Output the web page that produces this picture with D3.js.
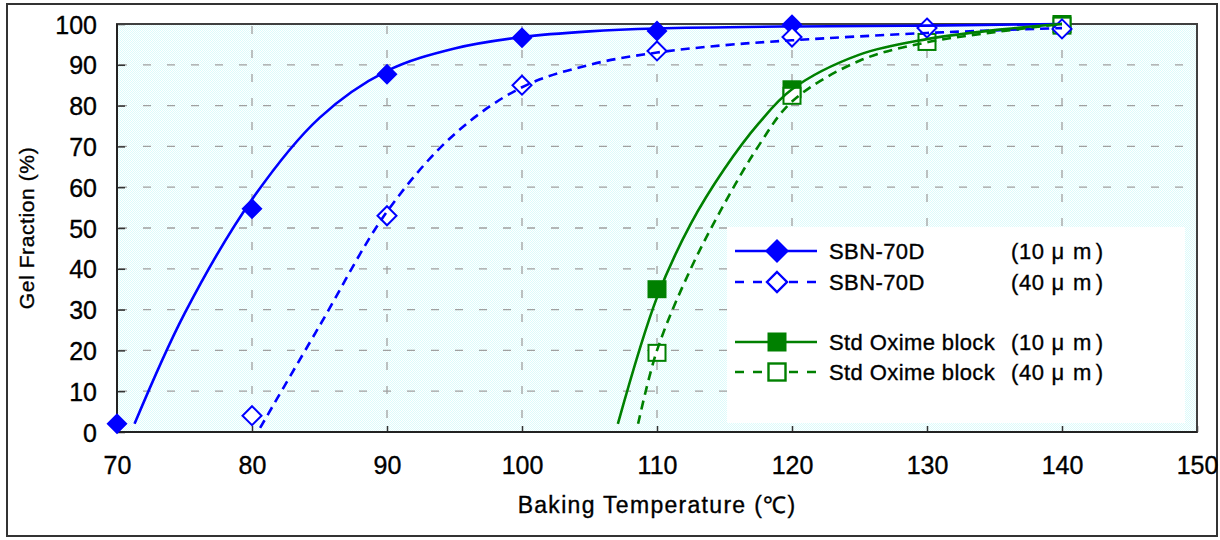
<!DOCTYPE html>
<html><head><meta charset="utf-8">
<script src="https://cdn.jsdelivr.net/npm/d3@7"></script>
<style>
body{margin:0;background:#fff;}
text{font-family:"Liberation Sans",Arial,sans-serif;fill:#000;stroke:#000;stroke-width:0.35px;}
</style>
</head><body>
<svg id="chart" width="1220" height="540"></svg>
<script>
// ---- data ----
const xTicks = [70, 80, 90, 100, 110, 120, 130, 140, 150];
const yTicks = [0, 10, 20, 30, 40, 50, 60, 70, 80, 90, 100];

// measured points
const sbn10Temp = [70, 80, 90, 100, 110, 120];
const sbn10Gel  = [2, 54.7, 87.7, 96.6, 98.3, 99.8];
const sbn40Temp = [80, 90, 100, 110, 120, 130, 140];
const sbn40Gel  = [4, 53, 85, 93.4, 96.8, 99, 98.8];
const std10Temp = [110, 120, 140];
const std10Gel  = [35, 84, 100];
const std40Temp = [110, 120, 130, 140];
const std40Gel  = [19.4, 82.4, 95.6, 99.6];

// fitted curves
const sbn10CurveT = [71.3, 75, 80, 85, 90, 95, 100, 105, 110, 120, 130, 140];
const sbn10CurveG = [2, 29, 57, 77, 88.5, 94, 96.8, 98.2, 98.9, 99.4, 99.6, 100];
const sbn40CurveT = [80.6, 85, 90, 95, 100, 105, 110, 115, 120, 130, 140];
const sbn40CurveG = [1, 26, 54, 73, 84.5, 90, 93, 94.8, 96, 97.8, 99];
const std10CurveT = [107.1, 110, 112.5, 115, 117.5, 120, 125, 130, 135, 140];
const std10CurveG = [2, 33, 51, 64.5, 75.5, 84, 92.5, 96.3, 98.5, 100];
const std40CurveT = [108.6, 110, 112.5, 115, 117.5, 120, 125, 130, 135, 140];
const std40CurveG = [2, 20, 40, 56, 70, 81, 91, 95.5, 98, 100];

const legendNames = ["SBN-70D", "SBN-70D", "Std Oxime block", "Std Oxime block"];
const legendThickNum = ["10", "40", "10", "40"];
const xTitle = "Baking Temperature (\u2103)";
const yTitle = "Gel Fraction (%)";

// ---- drawing ----
const svg = d3.select("#chart");
const L = 117, R = 1197, T = 24, B = 432;
const x = d3.scaleLinear().domain([70, 150]).range([L, R]);
const y = d3.scaleLinear().domain([0, 100]).range([B, T]);

const BLUE = "#0000ff", GREEN = "#008000";

// outer border
svg.append("rect").attr("x", 7).attr("y", 4).attr("width", 1210).attr("height", 532)
  .attr("fill", "#fff").attr("stroke", "#333").attr("stroke-width", 2);

// pattern
const defs = svg.append("defs");
const pat = defs.append("pattern").attr("id", "dots").attr("width", 2).attr("height", 2)
  .attr("patternUnits", "userSpaceOnUse");
pat.append("rect").attr("width", 2).attr("height", 2).attr("fill", "#ffffff");
pat.append("rect").attr("x", 0).attr("y", 0).attr("width", 1).attr("height", 1).attr("fill", "#dcfbfb");
pat.append("rect").attr("x", 1).attr("y", 1).attr("width", 1).attr("height", 1).attr("fill", "#dcfbfb");

svg.append("rect").attr("x", L).attr("y", T).attr("width", R - L).attr("height", B - T)
  .attr("fill", "url(#dots)");

// grid
const grid = svg.append("g").attr("stroke", "#a0a0a0").attr("stroke-width", 1.3)
  .attr("stroke-dasharray", "8,16");
grid.selectAll(".hg").data(yTicks.filter(d => d > 0 && d < 100)).join("line")
  .attr("x1", L + 2).attr("x2", R).attr("y1", d => y(d)).attr("y2", d => y(d));
grid.selectAll(".vg").data(xTicks.filter(d => d > 70 && d < 150)).join("line")
  .attr("y1", T + 2).attr("y2", B).attr("x1", d => x(d)).attr("x2", d => x(d));

// legend box (white)
const lg = svg.append("g");
lg.append("rect").attr("x", 727).attr("y", 227).attr("width", 458).attr("height", 196).attr("fill", "#fff");

// axes
const yAxis = d3.axisLeft(y).tickValues(yTicks).tickSizeInner(-8).tickSizeOuter(0).tickPadding(20);
const xAxis = d3.axisBottom(x).tickValues(xTicks).tickSizeInner(-6).tickSizeOuter(0).tickPadding(24);
const gy = svg.append("g").attr("transform", `translate(${L},0)`).call(yAxis);
const gx = svg.append("g").attr("transform", `translate(0,${B})`).call(xAxis);
[gx, gy].forEach(g => {
  g.select(".domain").remove();
  g.selectAll(".tick line").attr("stroke", "#333").attr("stroke-width", 1.5);
  g.selectAll(".tick text").style("font-size", "25px").attr("fill", "#000");
});
gy.selectAll(".tick text").attr("dy", "0.36em");

// plot frame
svg.append("rect").attr("x", L).attr("y", T).attr("width", R - L).attr("height", B - T)
  .attr("fill", "none").attr("stroke", "#404040").attr("stroke-width", 2);
svg.append("line").attr("x1", L).attr("x2", L).attr("y1", T).attr("y2", B).attr("stroke", "#222").attr("stroke-width", 2);
svg.append("line").attr("x1", L).attr("x2", R).attr("y1", B).attr("y2", B).attr("stroke", "#222").attr("stroke-width", 2);

// markers
const diamond = (s) => `M0,${-s}L${s},0L0,${s}L${-s},0Z`;
function markers(temps, gels, shape, color, filled) {
  const g = svg.append("g");
  const pts = temps.map((t, i) => [t, gels[i]]);
  if (shape === "diamond") {
    g.selectAll("path").data(pts).join("path")
      .attr("transform", d => `translate(${x(d[0])},${y(d[1])})`)
      .attr("d", filled ? diamond(10.5) : diamond(9.5))
      .attr("fill", filled ? color : "#fff").attr("stroke", color).attr("stroke-width", filled ? 0 : 2);
  } else {
    const w = filled ? 19 : 17, h = filled ? 18 : 16;
    g.selectAll("rect").data(pts).join("rect")
      .attr("x", d => x(d[0]) - w / 2).attr("y", d => y(d[1]) - h / 2)
      .attr("width", w).attr("height", h)
      .attr("fill", filled ? color : "#fff").attr("stroke", color).attr("stroke-width", filled ? 0 : 2);
  }
}
markers(std10Temp, std10Gel, "square", GREEN, true);
markers(std40Temp, std40Gel, "square", GREEN, false);
markers(sbn10Temp, sbn10Gel, "diamond", BLUE, true);
markers(sbn40Temp, sbn40Gel, "diamond", BLUE, false);

// curves
const line = d3.line().x(d => x(d[0])).y(d => y(d[1])).curve(d3.curveCatmullRom.alpha(0.5));
function curve(ts, gs, color, dash) {
  svg.append("path").datum(ts.map((t, i) => [t, gs[i]]))
    .attr("d", line).attr("fill", "none").attr("stroke", color).attr("stroke-width", 2.6)
    .attr("stroke-dasharray", dash ? "9,6" : null);
}
curve(sbn10CurveT, sbn10CurveG, BLUE, false);
curve(sbn40CurveT, sbn40CurveG, BLUE, true);
curve(std10CurveT, std10CurveG, GREEN, false);
curve(std40CurveT, std40CurveG, GREEN, true);

// legend entries
const rowsY = [251, 282, 342, 372];
const legColors = [BLUE, BLUE, GREEN, GREEN];
const legDash = [false, true, false, true];
const legShape = ["diamond", "diamond", "square", "square"];
const legFilled = [true, false, true, false];
rowsY.forEach((ry, i) => {
  const c = legColors[i];
  lg.append("line").attr("x1", 735).attr("x2", 817).attr("y1", ry).attr("y2", ry)
    .attr("stroke", c).attr("stroke-width", 2.6)
    .attr("stroke-dasharray", legDash[i] ? "9,9" : null);
  if (legShape[i] === "diamond") {
    lg.append("path").attr("transform", `translate(777,${ry})`)
      .attr("d", legFilled[i] ? diamond(12) : diamond(10))
      .attr("fill", legFilled[i] ? c : "#fff").attr("stroke", c).attr("stroke-width", legFilled[i] ? 0 : 2.4);
  } else {
    const w = legFilled[i] ? 19 : 17;
    lg.append("rect").attr("x", 777 - w / 2).attr("y", ry - w / 2).attr("width", w).attr("height", w)
      .attr("fill", legFilled[i] ? c : "#fff").attr("stroke", c).attr("stroke-width", legFilled[i] ? 0 : 2.4);
  }
  lg.append("text").attr("x", 829).attr("y", ry + 8).style("font-size", "22px")
    .style("letter-spacing", "0.4px").text(legendNames[i]);
  const t = lg.append("text").attr("x", 1011).attr("y", ry + 8).style("font-size", "22px")
    .style("letter-spacing", "0.6px");
  t.append("tspan").text("(" + legendThickNum[i]);
  t.append("tspan").attr("dx", 7).text("\u03bc");
  t.append("tspan").attr("dx", 8).text("m");
  t.append("tspan").attr("dx", 4).text(")");
});

// axis titles
svg.append("text").attr("x", (L + R) / 2).attr("y", 513).attr("text-anchor", "middle")
  .style("font-size", "23px").style("letter-spacing", "1.3px").text(xTitle);
svg.append("text").attr("transform", `translate(34,${(T + B) / 2}) rotate(-90)`)
  .attr("text-anchor", "middle").style("font-size", "21px").style("letter-spacing", "0.6px").text(yTitle);
</script>
</body></html>
